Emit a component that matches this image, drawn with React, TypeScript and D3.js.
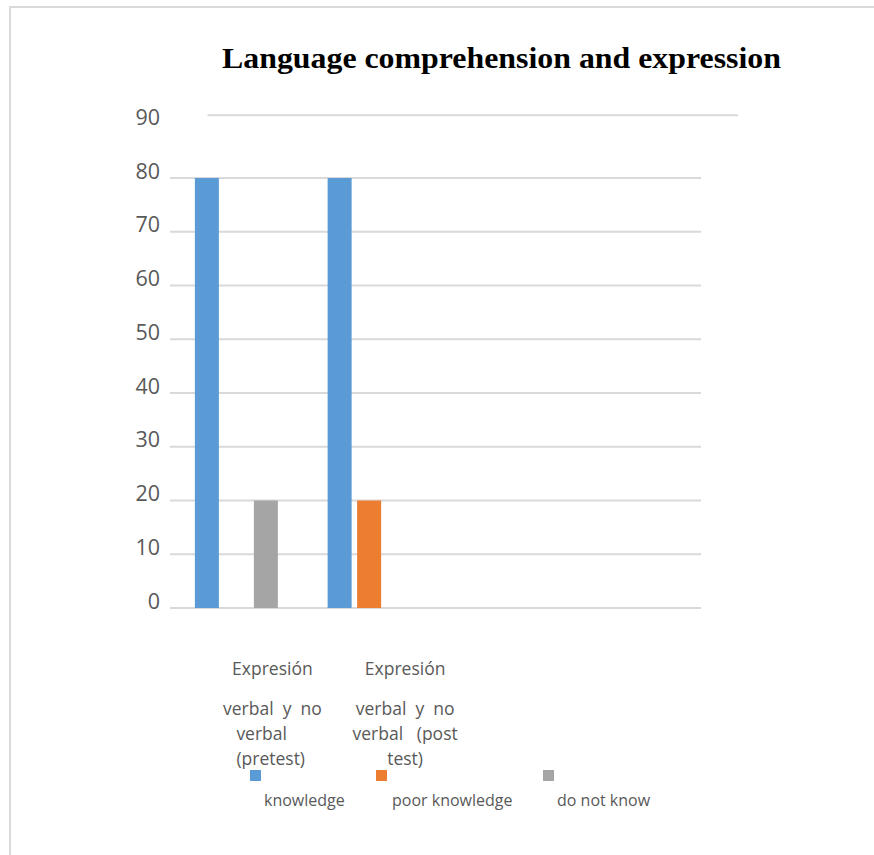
import React from "react";
import * as d3 from "d3";

// chart data
const categories = ["pretest", "posttest"];
const categoryLines = [
  ["Expresión", "verbal  y  no", "verbal", "(pretest)"],
  ["Expresión", "verbal  y  no", "verbal   (post", "test)"],
];
const seriesNames = ["knowledge", "poor knowledge", "do not know"];
const seriesColors = ["#5B9BD5", "#ED7D31", "#A5A5A5"];
const knowledge = [80, 80];
const poorKnowledge = [0, 20];
const doNotKnow = [20, 0];
const yTicks = [0, 10, 20, 30, 40, 50, 60, 70, 80, 90];

const W = 874;
const H = 855;
const left = 170;
const right = 701;
const top = 124.25;
const bottom = 608;
const slots = 4; // the sheet reserved four category slots, two of them empty

const App: React.FC = () => {
  const y = d3.scaleLinear().domain([0, 90]).range([bottom, top]);
  const slotW = (right - left) / slots;
  const x0 = d3.scaleBand<string>().domain(categories).range([left, left + slotW * categories.length]);
  const x1 = d3.scaleBand<string>().domain(seriesNames).range([0, 83]).paddingInner(0.186);
  const values = [knowledge, poorKnowledge, doNotKnow];
  const groupOffset = (x0.bandwidth() - 83) / 2;

  const font = "'Open Sans', 'Noto Sans', sans-serif";
  const grid = "#D9D9D9";
  const legendX = [250, 376, 543];
  const lineY = [675, 715, 740, 765];

  return (
    <svg width={W} height={H} style={{ position: "absolute", left: 0, top: 0, background: "#fff" }}>
      {/* outer frame */}
      <rect x={10} y={7} width={W + 10} height={H + 10} fill="#fff" stroke={grid} strokeWidth={2} />

      <text x={222} y={68} fontFamily="'Liberation Serif', 'DejaVu Serif', serif" fontWeight="bold" fontSize={30}
        textLength={559} lengthAdjust="spacingAndGlyphs" fill="#000">
        Language comprehension and expression
      </text>

      {/* gridlines and y labels */}
      {yTicks.map((t) => {
        const isTop = t === 90; // top gridline sits a little off in the original
        return (
          <g key={t}>
            <line x1={isTop ? left + 37.5 : left} x2={isTop ? right + 37 : right}
              y1={isTop ? y(t) - 9 : y(t)} y2={isTop ? y(t) - 9 : y(t)} stroke={grid} strokeWidth={2} />
            <text x={160} y={y(t) + 0.5} textAnchor="end" fontFamily={font} fontSize={21.5} fill="#595959">{t}</text>
          </g>
        );
      })}

      {/* bars */}
      {categories.map((c, ci) => (
        <g key={c} transform={`translate(${x0(c)! + groupOffset},0)`}>
          {seriesNames.map((s, si) => {
            const v = values[si][ci];
            if (!v) return null;
            return <rect key={s} x={x1(s)} y={y(v)} width={x1.bandwidth()} height={y(0) - y(v)} fill={seriesColors[si]} />;
          })}
        </g>
      ))}

      {/* category labels */}
      {categories.map((c, ci) => {
        const cx = x0(c)! + x0.bandwidth() / 2 + 36;
        return (
          <g key={c}>
            {categoryLines[ci].map((line, li) => {
              // the wrapped lines of the first label hang from a left edge
              const hang = ci === 0 && li >= 2;
              return (
                <text key={li} x={hang ? cx - 36 : cx} y={lineY[li]} textAnchor={hang ? "start" : "middle"}
                  fontFamily={font} fontSize={17.5} fill="#595959" style={{ whiteSpace: "pre" }}>{line}</text>
              );
            })}
          </g>
        );
      })}

      {/* legend */}
      {seriesNames.map((s, i) => (
        <g key={s}>
          <rect x={legendX[i]} y={770} width={11} height={11} fill={seriesColors[i]} />
          <text x={legendX[i] + (i === 1 ? 16 : 14)} y={806} fontFamily={font} fontSize={16} fill="#595959">{s}</text>
        </g>
      ))}
    </svg>
  );
};

export default App;
